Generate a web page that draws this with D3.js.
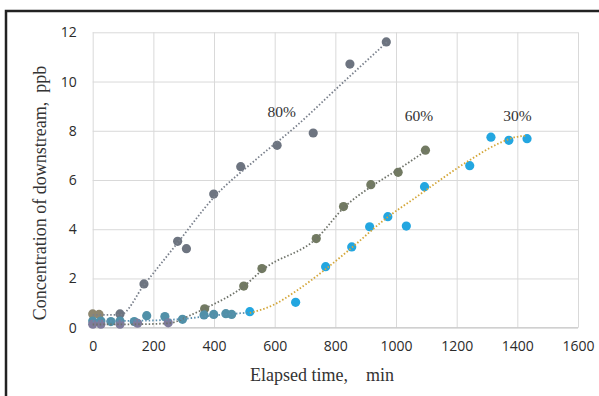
<!DOCTYPE html>
<html>
<head>
<meta charset="utf-8">
<script src="https://cdn.jsdelivr.net/npm/d3@7"></script>
<style>
  body { margin: 0; background: #fff; }
  .tick text { font-family: "Open Sans", sans-serif; font-size: 14px; fill: #2b2b2b; }
  .grid line { stroke: #d9d9d9; stroke-width: 1; }
  .title { font-family: "Liberation Serif", serif; font-size: 18px; fill: #333; }
  .lab { font-family: "Liberation Serif", serif; font-size: 15.5px; fill: #333; }
</style>
</head>
<body>
<svg id="chart" width="599" height="396"></svg>
<script>
// tick labels
var xTicks = [0, 200, 400, 600, 800, 1000, 1200, 1400, 1600];
var yTicks = [0, 2, 4, 6, 8, 10, 12];

// measured points [elapsed min, ppb]
var s80 = [[90,0.56],[169,1.78],[280,3.51],[309,3.21],[399,5.43],[488,6.54],[608,7.41],[727,7.91],[848,10.71],[968,11.61]];
var s60 = [[369,0.77],[498,1.69],[558,2.40],[737,3.62],[827,4.92],[917,5.81],[1007,6.31],[1097,7.21]];
var s30 = [[518,0.65],[669,1.03],[768,2.48],[854,3.28],[913,4.10],[973,4.51],[1034,4.13],[1094,5.73],[1243,6.58],[1313,7.74],[1372,7.61],[1432,7.68]];
var sTan = [[0,0.56],[21,0.54]];
var sTeal = [[0,0.27],[27,0.27],[60,0.25],[90,0.27],[137,0.25],[178,0.49],[238,0.45],[296,0.34],[367,0.52],[399,0.54],[439,0.57],[458,0.54]];
var sPurple = [[0,0.14],[27,0.14],[90,0.14],[148,0.18],[249,0.2]];

// trend lines
var trend80 = [[0,0.52],[90,0.52],[170,1.75],[280,3.45],[400,5.3],[540,6.85],[672,8.2],[820,9.9],[970,11.6]];
var trend60 = [[0,0.13],[150,0.14],[250,0.18],[330,0.55],[370,0.78],[500,1.7],[560,2.35],[740,3.65],[830,4.9],[920,5.75],[1010,6.45],[1100,7.2]];
var trendTeal = [[0,0.27],[140,0.28],[300,0.36],[400,0.5],[460,0.56],[518,0.62]];
var trend30 = [[518,0.6],[595,0.92],[672,1.5],[768,2.38],[854,3.25],[968,4.45],[1060,5.25],[1242,6.8],[1341,7.5],[1396,7.75],[1432,7.8]];

// series labels
var labels = ["80%", "60%", "30%"];
var labelPos = [[623,8.56],[1076,8.4],[1400,8.4]];

var svg = d3.select("#chart");
var plotLeft = 92.7, plotRight = 578, plotTop = 32.3, plotBottom = 327.7;

var x = d3.scaleLinear().domain([0, 1600]).range([plotLeft, plotRight]);
var y = d3.scaleLinear().domain([0, 12]).range([plotBottom, plotTop]);

// outer frame
svg.append("path")
   .attr("d", "M6,396 V11 H599")
   .attr("fill", "none")
   .attr("stroke", "#222")
   .attr("stroke-width", 2.5);

// grid + axes
var xAxis = d3.axisBottom(x).tickValues(xTicks).tickFormat(d3.format("d"))
              .tickSize(-(plotBottom - plotTop)).tickPadding(13);
var yAxis = d3.axisLeft(y).tickValues(yTicks).tickFormat(d3.format("d"))
              .tickSize(-(plotRight - plotLeft)).tickPadding(16);

var gx = svg.append("g").attr("class", "grid")
            .attr("transform", "translate(0," + plotBottom + ")")
            .call(xAxis);
gx.select(".domain").remove();

var gy = svg.append("g").attr("class", "grid")
            .attr("transform", "translate(" + plotLeft + ",0)")
            .call(yAxis);
gy.select(".domain").remove();

svg.append("line")
   .attr("x1", plotLeft).attr("x2", plotRight)
   .attr("y1", plotBottom).attr("y2", plotBottom)
   .attr("stroke", "#c8c8c8");

// markers
var markerSets = [
  {data: s80, color: "#6d7480"},
  {data: s60, color: "#727a62"},
  {data: sTan, color: "#8e8770"},
  {data: sTeal, color: "#5190a8"},
  {data: sPurple, color: "#7e7b9c"},
  {data: s30, color: "#23a6e0"}
];

markerSets.forEach(function(set){
  svg.append("g").selectAll("circle")
     .data(set.data)
     .enter()
     .append("circle")
     .attr("cx", function(d){ return x(d[0]); })
     .attr("cy", function(d){ return y(d[1]); })
     .attr("r", 4.6)
     .attr("fill", set.color);
});

// dotted trend lines
var line = d3.line()
             .x(function(d){ return x(d[0]); })
             .y(function(d){ return y(d[1]); })
             .curve(d3.curveMonotoneX);

var trends = [
  {data: trend80, color: "#7a808c"},
  {data: trend60, color: "#6f736a"},
  {data: trendTeal, color: "#5a90b0"},
  {data: trend30, color: "#d4a73a"}
];

trends.forEach(function(t){
  svg.append("path")
     .attr("d", line(t.data))
     .attr("fill", "none")
     .attr("stroke", t.color)
     .attr("stroke-width", 1.8)
     .attr("stroke-dasharray", "1.5,2");
});

// labels
svg.selectAll(".lab")
   .data(labels)
   .enter()
   .append("text")
   .attr("class", "lab")
   .attr("x", function(d, i){ return x(labelPos[i][0]); })
   .attr("y", function(d, i){ return y(labelPos[i][1]); })
   .attr("text-anchor", "middle")
   .text(function(d){ return d; });

// axis titles
svg.append("text")
   .attr("class", "title")
   .attr("x", 322)
   .attr("y", 381)
   .attr("text-anchor", "middle")
   .attr("xml:space", "preserve")
   .text("Elapsed time,    min");

svg.append("text")
   .attr("class", "title")
   .attr("transform", "translate(46,193) rotate(-90)")
   .attr("text-anchor", "middle")
   .attr("xml:space", "preserve")
   .text("Concentration of downstream,  ppb");
</script>
</body>
</html>
